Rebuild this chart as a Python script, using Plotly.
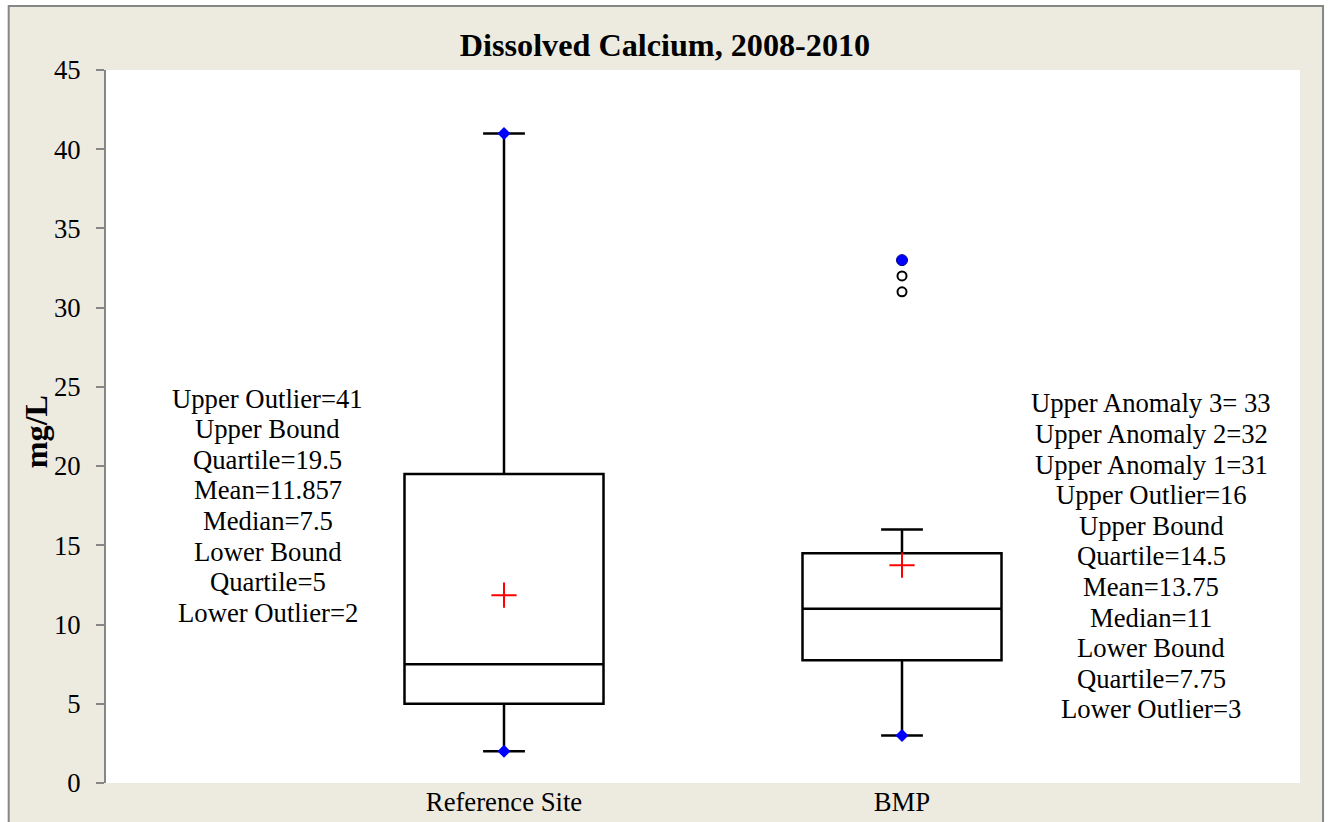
import plotly.graph_objects as go

# ---- data ----
categories = ["Reference Site", "BMP"]
positions = [1, 2]
lower_whisker = [2, 3]
q1_vals = [5, 7.75]
median_vals = [7.5, 11]
q3_vals = [19.5, 14.5]
upper_whisker = [41, 16]
mean_vals = [11.857, 13.75]
# extreme points marked with blue diamonds
diamond_x = [1, 1, 2]
diamond_y = [41, 2, 3]
# BMP anomalies
anomaly_x = [2, 2]
anomaly_y = [31, 32]
anomaly_top_x = [2]
anomaly_top_y = [33]
y_title = "mg/L"

left_text = ["Upper Outlier=41", "Upper Bound", "Quartile=19.5", "Mean=11.857",
             "Median=7.5", "Lower Bound", "Quartile=5", "Lower Outlier=2"]
right_text = ["Upper Anomaly 3= 33", "Upper Anomaly 2=32", "Upper Anomaly 1=31",
              "Upper Outlier=16", "Upper Bound", "Quartile=14.5", "Mean=13.75",
              "Median=11", "Lower Bound", "Quartile=7.75", "Lower Outlier=3"]

FONT = "Liberation Serif, Times New Roman, serif"
BG = "#EDEBE0"
FS = 26.7

fig = go.Figure()
fig.add_trace(go.Box(
    x=positions, q1=q1_vals, median=median_vals, q3=q3_vals,
    lowerfence=lower_whisker, upperfence=upper_whisker,
    boxpoints=False, width=0.5, whiskerwidth=0.21,
    line=dict(color="black", width=2.5), fillcolor="white",
    showlegend=False, hoverinfo="skip"))

fig.add_trace(go.Scatter(x=diamond_x, y=diamond_y, mode="markers",
                         marker=dict(symbol="diamond", color="blue", size=10),
                         showlegend=False))
fig.add_trace(go.Scatter(x=positions, y=mean_vals, mode="markers",
                         marker=dict(symbol="cross-thin", size=18,
                                     line=dict(color="red", width=2)),
                         showlegend=False))
fig.add_trace(go.Scatter(x=anomaly_x, y=anomaly_y, mode="markers",
                         marker=dict(symbol="circle-open", size=9, color="black",
                                     line=dict(color="black", width=2)),
                         showlegend=False))
fig.add_trace(go.Scatter(x=anomaly_top_x, y=anomaly_top_y, mode="markers",
                         marker=dict(symbol="circle", size=11, color="blue",
                                     line=dict(color="#000080", width=1)),
                         showlegend=False))

annotations = []
def block(lines, xc, yc, spacing=30.6):
    n = len(lines)
    for i, t in enumerate(lines):
        annotations.append(dict(
            x=xc, y=yc, xref="x", yref="y", text=t, showarrow=False,
            yshift=-(i - (n - 1) / 2) * spacing,
            font=dict(family=FONT, size=FS, color="black"),
            xanchor="center", yanchor="middle"))

block(left_text, 0.407, 17.5)
block(right_text, 2.626, 14.3)

# y-axis title
annotations.append(dict(x=-0.0586, y=0.492, xref="paper", yref="paper",
                        text="<b>" + y_title + "</b>", showarrow=False, textangle=-90,
                        xanchor="center", yanchor="middle",
                        font=dict(family=FONT, size=32.2, color="black")))

shapes = [
    # white edges outside the border
    dict(type="rect", xref="paper", yref="paper", x0=-0.2, x1=-0.0815,
         y0=-0.2, y1=1.2, fillcolor="white", line=dict(width=0), layer="above"),
    dict(type="rect", xref="paper", yref="paper", x0=1.019, x1=1.2,
         y0=-0.2, y1=1.2, fillcolor="white", line=dict(width=0), layer="above"),
    dict(type="rect", xref="paper", yref="paper", x0=-0.2, x1=1.2,
         y0=1.0898, y1=1.2, fillcolor="white", line=dict(width=0), layer="above"),
    # gray border
    dict(type="rect", xref="paper", yref="paper", x0=-0.0815, x1=1.0193,
         y0=-0.1, y1=1.0898, line=dict(color="#868686", width=2), layer="above"),
]

fig.update_layout(
    width=1330, height=822,
    margin=dict(l=106, r=30, t=70, b=39, autoexpand=False),
    paper_bgcolor=BG, plot_bgcolor="white",
    font=dict(family=FONT, color="black"),
    title=dict(text="<b>Dissolved Calcium, 2008-2010</b>", x=0.5, xref="container",
               xanchor="center", y=0.945, yref="container", yanchor="middle",
               automargin=False,
               font=dict(family=FONT, size=32.2, color="black")),
    xaxis=dict(range=[0, 3], tickvals=positions, ticktext=categories,
               showgrid=False, zeroline=False, showline=False, ticks="",
               automargin=False,
               tickfont=dict(family=FONT, size=FS, color="black")),
    yaxis=dict(range=[0, 45], dtick=5, showgrid=False, zeroline=False,
               showline=True, linecolor="#868686", linewidth=2,
               ticks="outside", ticklen=8, tickcolor="#868686", tickwidth=2,
               ticklabelstandoff=10,
               automargin=False,
               tickfont=dict(family=FONT, size=FS, color="black")),
    annotations=annotations, shapes=shapes,
)

fig.write_html("out.html", config={"displayModeBar": False},
               post_script="document.body.style.margin='0';document.body.style.overflow='hidden';")
